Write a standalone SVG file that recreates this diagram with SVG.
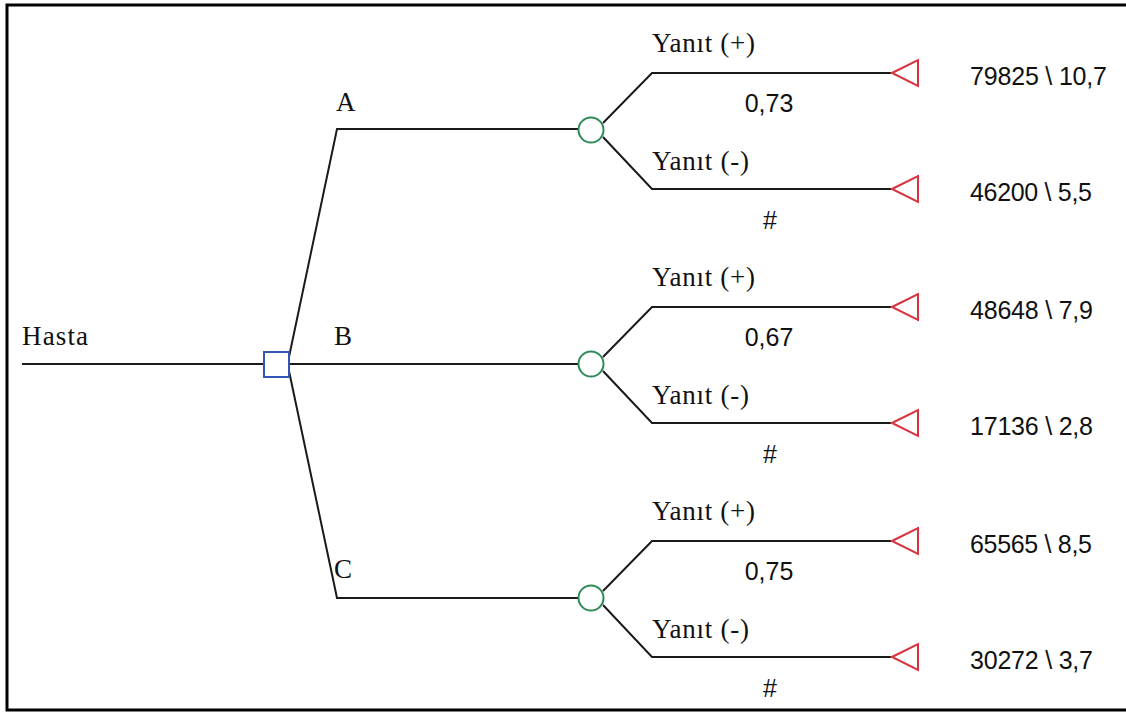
<svg xmlns="http://www.w3.org/2000/svg" width="1126" height="713" viewBox="0 0 1126 713">
<defs>
<style>
.ln{fill:none;stroke:#1a1a1a;stroke-width:2}
.sq{fill:#fff;stroke:#2f55b5;stroke-width:2}
.ch{fill:#fff;stroke:#2e8b57;stroke-width:2}
.tr{fill:#fff;stroke:#d8323f;stroke-width:2;stroke-linejoin:miter}
.sf{font-family:"Liberation Serif","DejaVu Serif",serif;font-size:27px;fill:#111}
.ss{font-family:"Liberation Sans","DejaVu Sans",sans-serif;font-size:25px;fill:#111}
.mid{text-anchor:middle}
</style>
<polygon id="term" class="tr" points="892,0 918,-13 918,13"/>
</defs>
<rect x="7" y="5" width="1130" height="705" fill="#fff" stroke="#000" stroke-width="3"/>
<g id="connectors">
<path class="ln" d="M22,364 H264"/>
<path class="ln" d="M289,357 L337,129 H578"/>
<path class="ln" d="M289,364 H578"/>
<path class="ln" d="M289,371 L337,598 H578"/>
<path class="ln" d="M603,123 L652,73 H891 M603,137 L652,189 H891"/>
<path class="ln" d="M603,357 L652,307 H891 M603,371 L652,423 H891"/>
<path class="ln" d="M603,591 L652,541 H891 M603,605 L652,657 H891"/>
</g>
<g id="root"><text class="sf" x="22" y="345" textLength="66">Hasta</text></g>
<g id="decision"><rect class="sq" x="264" y="352" width="25" height="25"/></g>
<g id="optA"><text class="sf" x="336" y="111">A</text><circle class="ch" cx="591" cy="130" r="12.5"/></g>
<g id="optB"><text class="sf" x="334" y="345">B</text><circle class="ch" cx="591" cy="364" r="12.5"/></g>
<g id="optC"><text class="sf" x="334" y="578">C</text><circle class="ch" cx="591" cy="598" r="12.5"/></g>
<g id="branchA">
<text class="sf" x="652" y="52" textLength="103">Yanıt (+)</text>
<text class="ss mid" x="769" y="112">0,73</text>
<text class="sf" x="652" y="170" textLength="97">Yanıt (-)</text>
<text class="ss mid" x="770" y="229">#</text>
</g>
<g id="branchB">
<text class="sf" x="652" y="286" textLength="103">Yanıt (+)</text>
<text class="ss mid" x="769" y="346">0,67</text>
<text class="sf" x="652" y="404" textLength="97">Yanıt (-)</text>
<text class="ss mid" x="770" y="463">#</text>
</g>
<g id="branchC">
<text class="sf" x="652" y="520" textLength="103">Yanıt (+)</text>
<text class="ss mid" x="769" y="580">0,75</text>
<text class="sf" x="652" y="638" textLength="97">Yanıt (-)</text>
<text class="ss mid" x="770" y="697">#</text>
</g>
<g id="term1"><use href="#term" y="73"/><text class="ss" x="970" y="85" textLength="137">79825 \ 10,7</text></g>
<g id="term2"><use href="#term" y="189"/><text class="ss" x="970" y="201" textLength="122">46200 \ 5,5</text></g>
<g id="term3"><use href="#term" y="307"/><text class="ss" x="970" y="319" textLength="123">48648 \ 7,9</text></g>
<g id="term4"><use href="#term" y="423"/><text class="ss" x="970" y="435" textLength="123">17136 \ 2,8</text></g>
<g id="term5"><use href="#term" y="541"/><text class="ss" x="970" y="553" textLength="122">65565 \ 8,5</text></g>
<g id="term6"><use href="#term" y="657"/><text class="ss" x="970" y="669" textLength="123">30272 \ 3,7</text></g>
</svg>
